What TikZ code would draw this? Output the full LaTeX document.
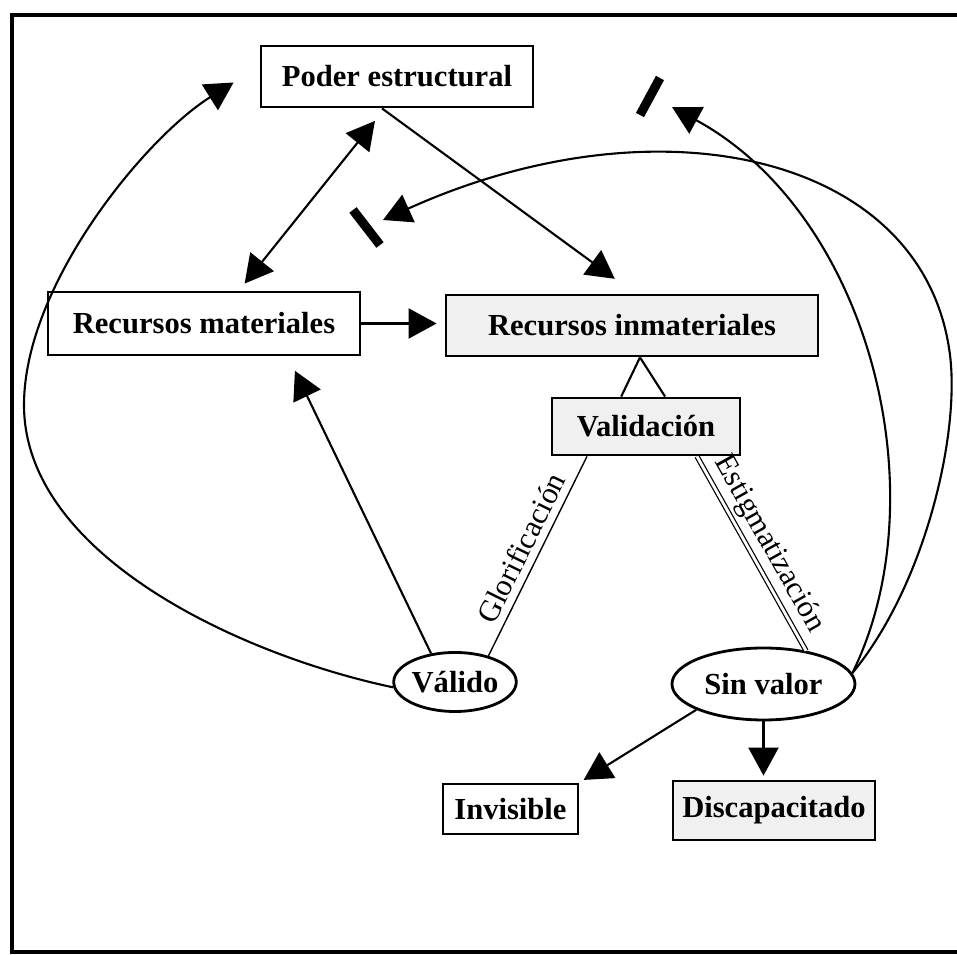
\documentclass[tikz,border=0pt]{standalone}
\usepackage{fontspec}
\setmainfont{Liberation Serif}
\usetikzlibrary{arrows.meta, shapes.geometric, calc}

\begin{document}
\begin{tikzpicture}[
		caja/.style={draw, line width=0.8pt, inner sep=0pt, font=\fontsize{8.7}{10}\selectfont\bfseries},
		elipse/.style={draw, ellipse, line width=0.8pt, inner sep=0pt, font=\fontsize{8.7}{10}\selectfont\bfseries},
		flecha/.style={line width=0.6pt, -{Triangle[length=2.8mm, width=3mm]}},
		flechas/.style={line width=0.6pt, {Triangle[length=2.8mm, width=3mm]}-{Triangle[length=2.8mm, width=3mm]}},
		etiqueta/.style={font=\fontsize{8.7}{10}\selectfont, sloped, midway, above},
		barra/.style={line width=2.6pt}
	]
		\useasboundingbox (0, 0) rectangle (9.57, 9.55);
		\draw[line width=1.4pt] (0.12, 0.03) rectangle (9.8, 9.40);

		\node[caja, minimum width=2.72cm, minimum height=0.61cm] (poder) at (3.97, 8.785) {Poder estructural};
		\node[caja, minimum width=3.12cm, minimum height=0.63cm] (mat) at (2.04, 6.315) {Recursos materiales};
		\node[caja, fill=black!6, minimum width=3.72cm, minimum height=0.61cm] (inmat) at (6.32, 6.295) {Recursos inmateriales};
		\node[caja, fill=black!6, minimum width=1.88cm, minimum height=0.57cm] (validacion) at (6.46, 5.285) {Validación};
		\node[elipse, minimum width=1.16cm, minimum height=0.59cm] (valido) at (4.55, 2.73) {Válido};
		\node[elipse, minimum width=1.83cm, minimum height=0.72cm] (sinvalor) at (7.635, 2.71) {Sin valor};
		\node[caja, minimum width=1.35cm, minimum height=0.50cm] (invisible) at (5.105, 1.46) {Invisible};
		\node[caja, fill=black!6, minimum width=2.02cm, minimum height=0.59cm] (discap) at (7.74, 1.445) {Discapacitado};

		\coordinate (tipPoder) at ($(poder.west)+(-0.26, -0.06)$);
		\coordinate (tipBarraA) at (6.72, 8.48);
		\coordinate (tipBarraB) at (3.83, 7.35);

		\draw[barra] (6.40, 8.40) -- (6.60, 8.77);
		\draw[barra] (3.53, 7.45) -- (3.80, 7.10);

		\draw[flechas, shorten <=0.9mm, shorten >=1.6mm] ([xshift=3.5mm]mat.north) -- ([xshift=-1.2mm]poder.south);
		\draw[flecha, shorten >=2.5mm] ([xshift=-1.5mm]poder.south) -- ([xshift=0.3mm]inmat.north);
		\draw[flecha, shorten >=0.8mm] (mat.east) -- (mat.east -| inmat.west);
		\draw[flecha, shorten >=1.6mm] (valido.130) -- ([xshift=8.4mm]mat.south);

		\draw[line width=0.6pt] ($(validacion.north west)!0.37!(validacion.north east)$) -- ([xshift=0.8mm]inmat.south) -- ($(validacion.north west)!0.6!(validacion.north east)$);
		\draw[line width=0.4pt] (valido.38) -- node[etiqueta, inner sep=2pt] {Glorificación} ([xshift=-5.9mm]validacion.south);
		\draw[line width=0.35pt, double, double distance=0.8pt] ([xshift=5.1mm]validacion.south) -- node[etiqueta, inner sep=1.5pt] {Estigmatización} (sinvalor.38);

		\draw[flecha] (valido.185) .. controls (2.4, 3.0) and (0.24, 4.0) .. (0.24, 5.5) .. controls (0.24, 6.7) and (1.45, 8.17) .. (tipPoder);
		\draw[flecha] (sinvalor.7) .. controls (9.4, 4.6) and (8.7, 7.4) .. (tipBarraA);
		\draw[flecha] (sinvalor.7) .. controls (9.25, 3.7) and (9.6, 5.2) .. (9.5, 6.0) .. controls (9.25, 8.0) and (6.6, 8.6) .. (tipBarraB);

		\draw[flecha, shorten >=0.5mm] (sinvalor.201) -- (invisible.north east);
		\draw[flecha, shorten >=0.4mm] (sinvalor.south) -- (sinvalor.south |- discap.north);
	\end{tikzpicture}
\end{document}
